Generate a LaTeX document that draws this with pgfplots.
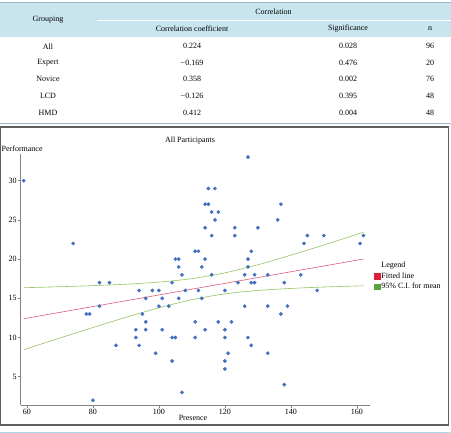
\documentclass[border=0pt]{standalone}
\usepackage{pgfplots}
\pgfplotsset{compat=1.18}
\usepackage{fontspec}
\setmainfont{Liberation Serif}
\definecolor{hdrbg}{RGB}{200,229,239}
\definecolor{hdrline}{RGB}{150,185,200}
\definecolor{dotblue}{RGB}{66,112,190}
\definecolor{fitred}{RGB}{222,90,120}
\definecolor{legred}{RGB}{220,30,60}
\definecolor{cigreen}{RGB}{150,195,100}
\definecolor{leggreen}{RGB}{90,160,60}
\definecolor{framegray}{RGB}{95,95,95}
\definecolor{axgray}{RGB}{130,130,130}
\definecolor{botblue}{RGB}{170,215,232}
\newcommand{\fs}{\fontsize{8bp}{9.6bp}\selectfont}
\begin{document}
\begin{tikzpicture}
\begin{scope}[x=1bp,y=1bp, every node/.style={font=\fs, inner sep=0pt}]
\useasboundingbox (0,0) rectangle (451,433);
% table
\fill[hdrbg] (0,395.7) rectangle (451,430.3);
\draw[hdrline, line width=0.9] (0,430.6) -- (451,430.6);
\draw[white, line width=0.6] (97,412.3) -- (451,412.3);
\draw[hdrline, line width=0.9] (0,309.7) -- (451,309.7);
\node at (273.5,421.3) {Correlation};
\node at (48,413) {Grouping};
\node at (192,404.3) {Correlation coefficient};
\node at (348,404.3) {Significance};
\node at (430,404.3) {n};
\node at (48,386.7) {All};    \node at (192,386.7) {0.224};  \node at (348,386.7) {0.028}; \node at (430,386.7) {96};
\node at (48,370) {Expert};   \node at (192,370) {−0.169};   \node at (348,370) {0.476};   \node at (430,370) {20};
\node at (48,353.7) {Novice}; \node at (192,353.7) {0.358};  \node at (348,353.7) {0.002}; \node at (430,353.7) {76};
\node at (48,336.7) {LCD};    \node at (192,336.7) {−0.126}; \node at (348,336.7) {0.395}; \node at (430,336.7) {48};
\node at (48,319.7) {HMD};    \node at (192,319.7) {0.412};  \node at (348,319.7) {0.004}; \node at (430,319.7) {48};
% chart frame
\draw[framegray, line width=1.3] (0.8,8) rectangle (448.5,306);
\draw[botblue, line width=1.5] (0,0.7) -- (451,0.7);
\node at (190,292) {All Participants};
\node[anchor=west] at (1.5,284.7) {Performance};
\node at (193,14.7) {Presence};
\end{scope}
\begin{axis}[at={(20.7bp,28bp)}, anchor=south west,
  scale only axis, width=349.3bp, height=251bp,
  xmin=58.1, xmax=164, ymin=1.4, ymax=33.4,
  axis lines=left, axis line style={-, axgray, line width=0.8bp},
  tick align=outside, major tick length=3bp,
  tick style={axgray, line width=0.6bp},
  xtick={60,80,...,160}, ytick={5,10,...,30},
  ticklabel style={font=\fs},
  xticklabel style={inner sep=1bp},
  yticklabel style={inner sep=1bp},
  /pgf/number format/assume math mode=true,
  legend style={at={(1.012,0.574)}, anchor=north west, draw=none, fill=none,
    font=\fs, inner sep=0pt, row sep=1.5bp, nodes={inner sep=1bp}},
  legend cell align=left,
]
\addplot[fitred, line width=0.6bp, forget plot] coordinates {(59,12.40) (162,20.01)};
\addplot[cigreen, line width=0.6bp, smooth, forget plot] coordinates {
(59,16.35) (70,16.48) (80,16.62) (90,16.80) (100,17.07) (110,17.51) (120,18.25) (130,19.28) (140,20.50) (150,21.80) (162,23.42)};
\addplot[cigreen, line width=0.6bp, smooth, forget plot] coordinates {
(59,8.45) (70,9.94) (80,11.28) (90,12.58) (100,13.79) (110,14.83) (120,15.57) (130,16.00) (140,16.26) (150,16.44) (162,16.60)};
\addplot[only marks, mark=*, mark size=1.7bp, dotblue, forget plot] coordinates {
(127,33) (59,30) (115,29) (117,29) (114,27) (115,27) (137,27)
(116,26) (118,26) (117,25) (136,25) (114,24) (123,24) (130,24)
(116,23) (123,23) (145,23) (150,23) (162,23) (74,22) (144,22) (161,22)
(111,21) (112,21) (128,21) (105,20) (106,20) (114,20) (127,20)
(106,19) (113,19) (127,19)
(107,18) (116,18) (126,18) (129,18) (133,18) (143,18)
(82,17) (85,17) (104,17) (124,17) (128,17) (129,17) (138,17)
(94,16) (98,16) (100,16) (108,16) (112,16) (120,16) (148,16)
(96,15) (101,15) (106,15) (113,15)
(82,14) (100,14) (103,14) (126,14) (133,14) (139,14)
(78,13) (79,13) (95,13) (137,13)
(96,12) (111,12) (118,12) (122,12)
(93,11) (96,11) (101,11) (114,11) (120,11)
(93,10) (104,10) (105,10) (111,10) (120,10) (127,10)
(87,9) (94,9) (128,9) (99,8) (121,8) (133,8)
(104,7) (120,7) (120,6) (138,4) (107,3) (80,2)};
\addlegendimage{empty legend}
\addlegendentry{Legend}
\addlegendimage{legend image code/.code={\fill[legred] (0bp,-2.8bp) rectangle (5.6bp,2.8bp);}}
\addlegendentry{Fitted line}
\addlegendimage{legend image code/.code={\fill[leggreen] (0bp,-2.8bp) rectangle (5.6bp,2.8bp);}}
\addlegendentry{95\% C.I. for mean}
\end{axis}
\end{tikzpicture}
\end{document}
